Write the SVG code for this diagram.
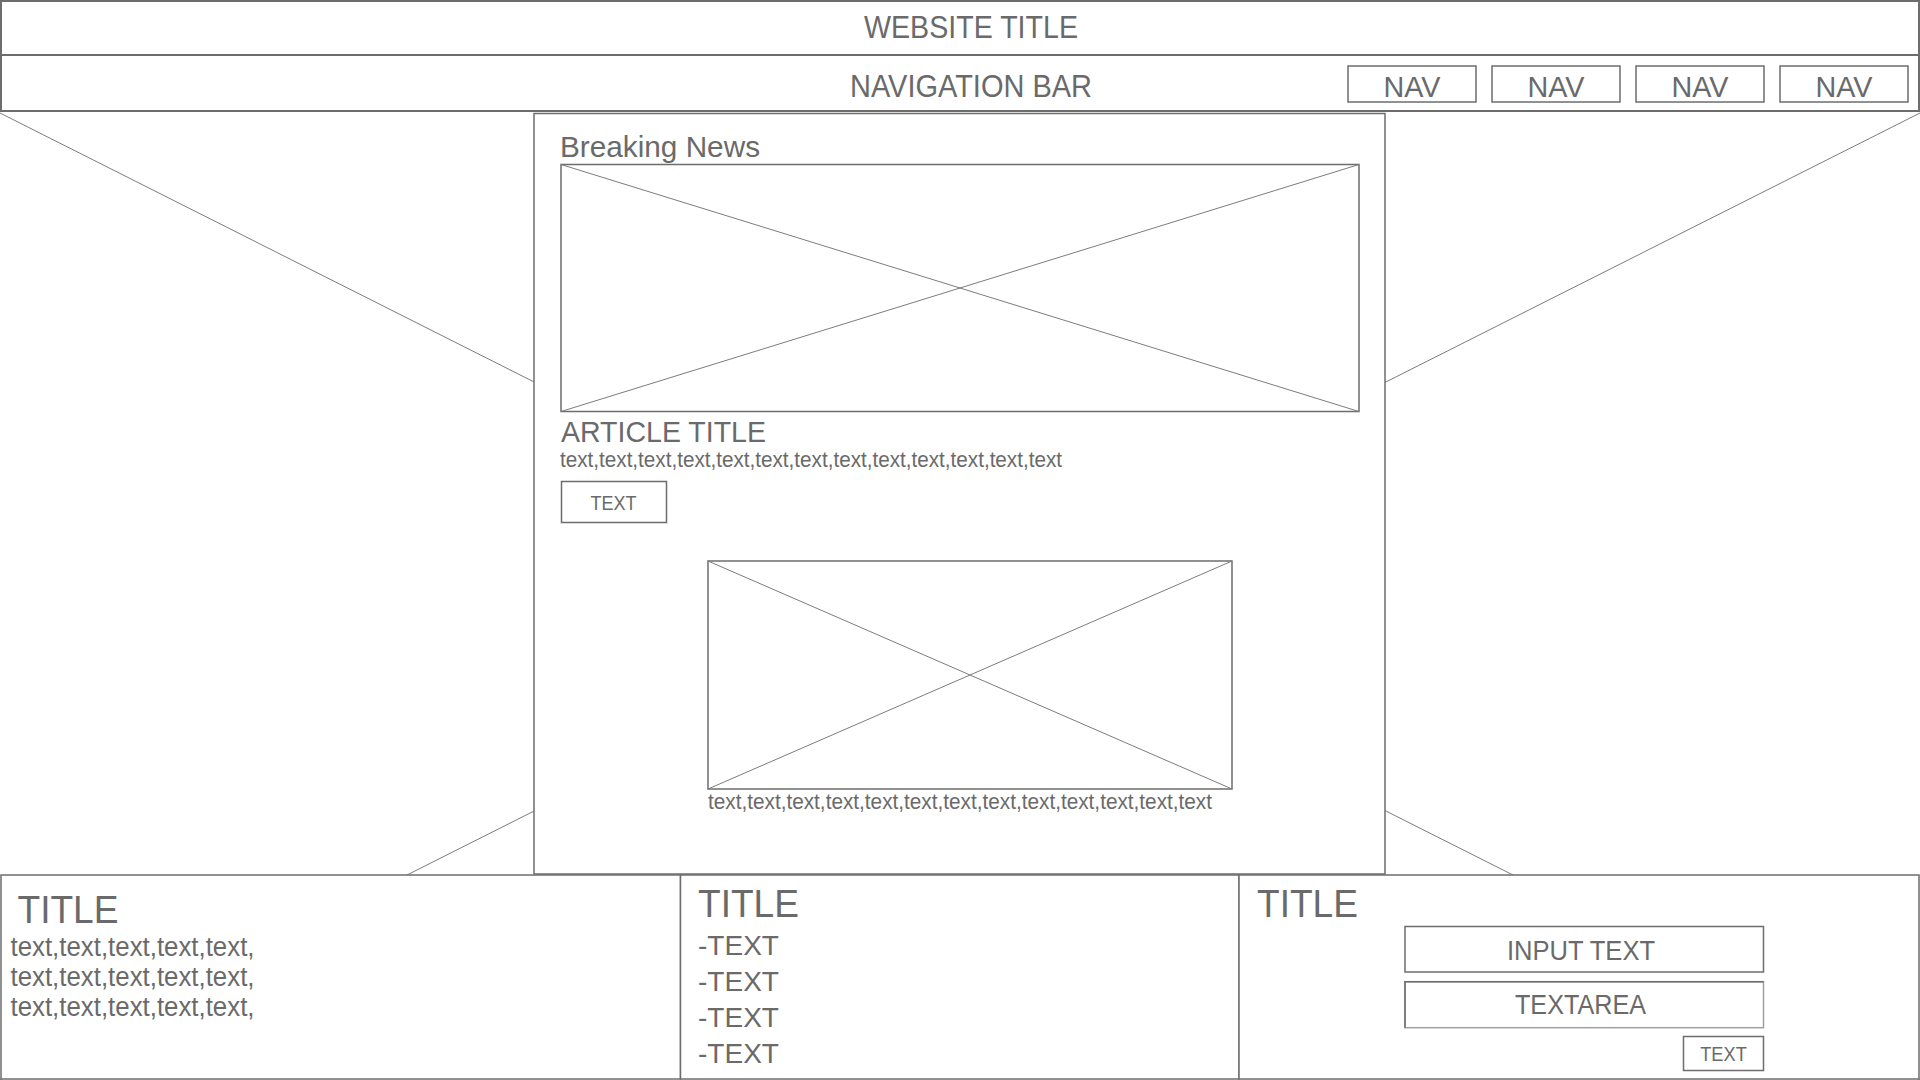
<svg xmlns="http://www.w3.org/2000/svg" width="1920" height="1080" viewBox="0 0 1920 1080">
<style>
  .bar{fill:#fff;stroke:#6d6d6d;stroke-width:2}
  .box{fill:#fff;stroke:#6d6d6d;stroke-width:1.5}
  .frame{fill:none;stroke:#6d6d6d;stroke-width:1.5}
  .ph{fill:none;stroke:#7c7c7c;stroke-width:1}
  text{font-family:"Liberation Sans",Arial,Helvetica,sans-serif;fill:#6a6a6a}
  .c{text-anchor:middle}
</style>
<rect x="0" y="0" width="1920" height="1080" fill="#fff"/>

<g id="page-placeholder">
  <line class="ph" x1="0" y1="113" x2="1920" y2="1080"/>
  <line class="ph" x1="1920" y1="113" x2="0" y2="1080"/>
</g>

<g id="connectors"></g>

<g id="website-title">
  <rect class="bar" x="1" y="1" width="1918" height="54"/>
  <text class="c" x="971" y="37.7" font-size="31.5" textLength="214" lengthAdjust="spacingAndGlyphs">WEBSITE TITLE</text>
</g>

<g id="navigation-bar">
  <rect class="bar" x="1" y="55" width="1918" height="56"/>
  <text class="c" x="971" y="96.5" font-size="30.5" textLength="242" lengthAdjust="spacingAndGlyphs">NAVIGATION BAR</text>
</g>

<g id="nav-1">
  <rect class="box" x="1348" y="66" width="128" height="36"/>
  <text class="c" x="1412" y="96.5" font-size="30" textLength="57" lengthAdjust="spacingAndGlyphs">NAV</text>
</g>
<g id="nav-2">
  <rect class="box" x="1492" y="66" width="128" height="36"/>
  <text class="c" x="1556" y="96.5" font-size="30" textLength="57" lengthAdjust="spacingAndGlyphs">NAV</text>
</g>
<g id="nav-3">
  <rect class="box" x="1636" y="66" width="128" height="36"/>
  <text class="c" x="1700" y="96.5" font-size="30" textLength="57" lengthAdjust="spacingAndGlyphs">NAV</text>
</g>
<g id="nav-4">
  <rect class="box" x="1780" y="66" width="128" height="36"/>
  <text class="c" x="1844" y="96.5" font-size="30" textLength="57" lengthAdjust="spacingAndGlyphs">NAV</text>
</g>

<g id="breaking-news">
  <rect class="box" x="534" y="113.5" width="851" height="760.5"/>
  <text x="560" y="156.7" font-size="29" textLength="200" lengthAdjust="spacingAndGlyphs">Breaking News</text>
</g>

<g id="hero-image">
  <rect class="frame" x="561" y="164.5" width="798" height="247"/>
  <line class="ph" x1="561" y1="164.5" x2="1359" y2="411.5"/>
  <line class="ph" x1="1359" y1="164.5" x2="561" y2="411.5"/>
</g>

<g id="article">
  <text x="561" y="442" font-size="29.5" textLength="205" lengthAdjust="spacingAndGlyphs">ARTICLE TITLE</text>
  <text x="560" y="466.5" font-size="22" textLength="502" lengthAdjust="spacingAndGlyphs">text,text,text,text,text,text,text,text,text,text,text,text,text</text>
</g>

<g id="article-button">
  <rect class="box" x="561.5" y="481.5" width="105" height="41"/>
  <text class="c" x="613.5" y="510" font-size="20" textLength="46" lengthAdjust="spacingAndGlyphs">TEXT</text>
</g>

<g id="second-image">
  <rect class="frame" x="708" y="561" width="524" height="228"/>
  <line class="ph" x1="708" y1="561" x2="1232" y2="789"/>
  <line class="ph" x1="1232" y1="561" x2="708" y2="789"/>
  <text x="708" y="808.6" font-size="22" textLength="504" lengthAdjust="spacingAndGlyphs">text,text,text,text,text,text,text,text,text,text,text,text,text</text>
</g>

<g id="panel-left">
  <rect class="box" x="1" y="875" width="679.5" height="204"/>
  <text x="17.5" y="922.5" font-size="39" textLength="101" lengthAdjust="spacingAndGlyphs">TITLE</text>
  <text x="10.5" y="955.8" font-size="27" textLength="244" lengthAdjust="spacingAndGlyphs">text,text,text,text,text,</text>
  <text x="10.5" y="985.8" font-size="27" textLength="244" lengthAdjust="spacingAndGlyphs">text,text,text,text,text,</text>
  <text x="10.5" y="1015.5" font-size="27" textLength="244" lengthAdjust="spacingAndGlyphs">text,text,text,text,text,</text>
</g>

<g id="panel-middle">
  <rect class="box" x="680.5" y="875" width="558.5" height="204"/>
  <text x="698" y="916.5" font-size="39" textLength="101" lengthAdjust="spacingAndGlyphs">TITLE</text>
  <text x="698" y="954.5" font-size="28.5" textLength="81" lengthAdjust="spacingAndGlyphs">-TEXT</text>
  <text x="698" y="990.5" font-size="28.5" textLength="81" lengthAdjust="spacingAndGlyphs">-TEXT</text>
  <text x="698" y="1026.5" font-size="28.5" textLength="81" lengthAdjust="spacingAndGlyphs">-TEXT</text>
  <text x="698" y="1062.5" font-size="28.5" textLength="81" lengthAdjust="spacingAndGlyphs">-TEXT</text>
</g>

<g id="panel-right">
  <rect class="box" x="1239" y="875" width="680" height="204"/>
  <text x="1257" y="916.5" font-size="39" textLength="101" lengthAdjust="spacingAndGlyphs">TITLE</text>
</g>

<g id="input-text">
  <rect class="box" x="1405" y="926.5" width="358.5" height="45.5"/>
  <text class="c" x="1581" y="960" font-size="28" textLength="148" lengthAdjust="spacingAndGlyphs">INPUT TEXT</text>
</g>

<g id="textarea">
  <rect x="1405" y="981.7" width="358.5" height="46" fill="#fff" stroke="#a0a0a0" stroke-width="1.5"/>
  <path d="M1405 1027.7 V981.7 H1763.5" fill="none" stroke="#6d6d6d" stroke-width="1.5"/>
  <text class="c" x="1580.5" y="1014" font-size="27" textLength="131" lengthAdjust="spacingAndGlyphs">TEXTAREA</text>
</g>

<g id="submit-button">
  <rect class="box" x="1683.5" y="1036.5" width="80" height="34"/>
  <text class="c" x="1723.5" y="1061" font-size="20" textLength="46.5" lengthAdjust="spacingAndGlyphs">TEXT</text>
</g>
</svg>
